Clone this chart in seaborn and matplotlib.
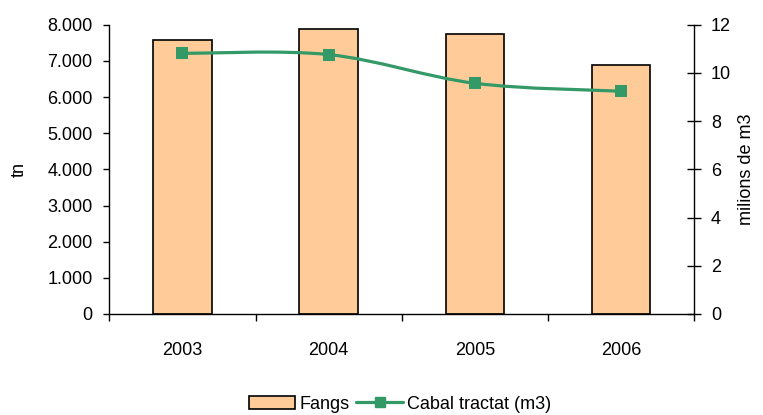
import matplotlib
matplotlib.use("Agg")
import matplotlib.pyplot as plt
from matplotlib.path import Path
from matplotlib.patches import PathPatch, Patch
from matplotlib.lines import Line2D
from matplotlib.ticker import FuncFormatter, FixedLocator
import numpy as np
import pandas as pd
import seaborn as sns

# Data
years = ["2003", "2004", "2005", "2006"]
fangs_tn = [7570, 7870, 7730, 6890]          # sludge (tn), left axis
cabal_milions_m3 = [10.81, 10.76, 9.57, 9.24]  # treated flow (millions m3), right axis

BAR_COLOR = "#FFCC99"
LINE_COLOR = "#339966"

sns.set_theme(style="white")
plt.rcParams["font.family"] = ["Liberation Sans", "DejaVu Sans"]
plt.rcParams["text.color"] = "black"
plt.rcParams["axes.labelcolor"] = "black"
FS = 13

df = pd.DataFrame({"any": years, "fangs": fangs_tn, "cabal": cabal_milions_m3})

fig = plt.figure(figsize=(7.63, 4.15), dpi=100)
ax = fig.add_axes([0.1433, 0.2434, 0.91 - 0.1433, 0.9405 - 0.2434])

sns.barplot(data=df, x="any", y="fangs", ax=ax, color=BAR_COLOR,
            width=0.4, edgecolor="black", linewidth=1.2, saturation=1)
ax.set_xlim(-0.5, len(years) - 0.5)
ax.set_ylim(0, 8000)
ax.set_yticks(np.arange(0, 8001, 1000))
ax.yaxis.set_major_formatter(FuncFormatter(lambda v, p: f"{int(v):,}".replace(",", ".")))
ax.set_xlabel("")
ax.set_ylabel("tn", fontsize=FS, color="black")
ax.yaxis.set_label_coords(-0.139, 0.5)

# category labels centred, tick marks at the category boundaries
ax.xaxis.set_minor_locator(FixedLocator(np.arange(-0.5, len(years), 1.0)))
ax.tick_params(axis="x", which="major", length=0, pad=20, labelsize=FS, colors="black")
ax.tick_params(axis="x", which="minor", length=5, width=1, direction="out", color="black", bottom=True)
ax.tick_params(axis="y", which="major", length=4, width=1, direction="out", pad=8,
               labelsize=FS, colors="black", left=True)

for side in ["top", "right"]:
    ax.spines[side].set_visible(False)
for side in ["left", "bottom"]:
    ax.spines[side].set_color("black")
    ax.spines[side].set_linewidth(1.0)

# Secondary axis for the flow series
ax2 = ax.twinx()
ax2.set_ylim(0, 12)
ax2.set_yticks(np.arange(0, 13, 2))
ax2.tick_params(axis="y", which="major", length=10, width=1, direction="inout", pad=7,
                labelsize=FS, colors="black", right=True)
for side in ["top", "left", "bottom"]:
    ax2.spines[side].set_visible(False)
ax2.spines["right"].set_color("black")
ax2.spines["right"].set_linewidth(1.0)
ax2.set_ylabel("milions de m3", fontsize=FS, color="black")
ax2.yaxis.set_label_coords(1.075, 0.5)

# Smoothed connecting curve (Catmull-Rom as cubic Bezier segments)
xs = np.arange(len(years), dtype=float)
ys = np.asarray(cabal_milions_m3, dtype=float)
pts = np.column_stack([xs, ys])
verts = [tuple(pts[0])]
codes = [Path.MOVETO]
n = len(pts)
for i in range(n - 1):
    p_prev = pts[i - 1] if i > 0 else pts[i]
    p0, p1 = pts[i], pts[i + 1]
    p_next = pts[i + 2] if i + 2 < n else pts[i + 1]
    c1 = p0 + (p1 - p_prev) / 6.0
    c2 = p1 - (p_next - p0) / 6.0
    verts += [tuple(c1), tuple(c2), tuple(p1)]
    codes += [Path.CURVE4] * 3
ax2.add_patch(PathPatch(Path(verts, codes), facecolor="none", edgecolor=LINE_COLOR,
                        linewidth=2.3, zorder=3))
sns.scatterplot(x=xs, y=ys, ax=ax2, marker="s", s=70, color=LINE_COLOR,
                edgecolor=LINE_COLOR, linewidth=0, zorder=4, legend=False)
ax2.set_xlim(-0.5, len(years) - 0.5)

handles = [
    Patch(facecolor=BAR_COLOR, edgecolor="black", linewidth=1.2, label="Fangs"),
    Line2D([0], [0], color=LINE_COLOR, linewidth=2.3, marker="s", markersize=7.5,
           label="Cabal tractat (m3)"),
]
leg = fig.legend(handles=handles, loc="center", bbox_to_anchor=(0.524, 0.0265), ncol=2,
                 frameon=False, fontsize=FS, handlelength=2.6, handletextpad=0.2,
                 columnspacing=0.4, borderpad=0.1)
for t in leg.get_texts():
    t.set_color("black")

fig.savefig("out.png", dpi=100)
